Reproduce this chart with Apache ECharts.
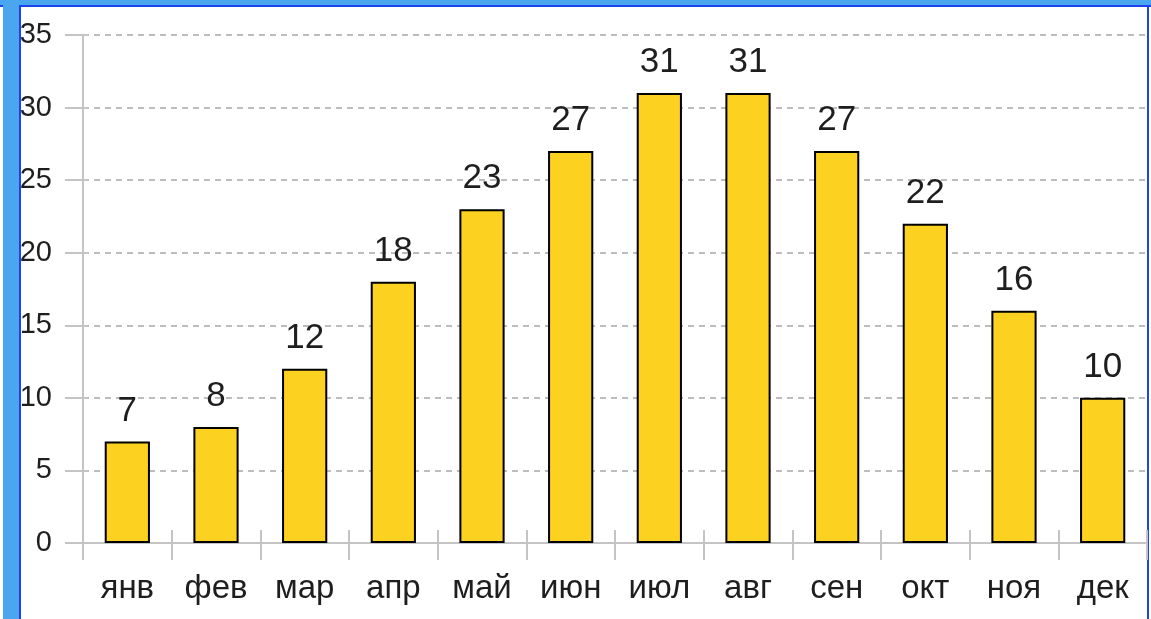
<!DOCTYPE html>
<html>
<head>
<meta charset="utf-8">
<script src="https://cdn.jsdelivr.net/npm/echarts@6/dist/echarts.min.js"></script>
<style>
  html, body { margin: 0; padding: 0; background: #fff; }
  #main { width: 1151px; height: 619px; }
</style>
</head>
<body>
<div id="main"></div>
<script>
// месяцы и значения
var months = ['янв', 'фев', 'мар', 'апр', 'май', 'июн', 'июл', 'авг', 'сен', 'окт', 'ноя', 'дек'];
var values = [7, 8, 12, 18, 23, 27, 31, 31, 27, 22, 16, 10];
var yTicks = [0, 5, 10, 15, 20, 25, 30, 35];

var font = '"Liberation Sans", Arial, sans-serif';
var gray = '#c4c4c4';
var myChart = echarts.init(document.getElementById('main'));

myChart.setOption({
  animation: false,
  grid: { left: 83, right: 4, top: 35, bottom: 76 },
  // рамка окна
  graphic: [
    { type: 'rect', shape: { x: 0, y: 0, width: 1151, height: 5 }, style: { fill: '#4aa6ee' } },
    { type: 'rect', shape: { x: 0, y: 5, width: 1151, height: 2 }, style: { fill: '#1c44ee' } },
    { type: 'rect', shape: { x: 3, y: 0, width: 16, height: 619 }, style: { fill: '#4aa6ee' } },
    { type: 'rect', shape: { x: 19, y: 5, width: 2, height: 614 }, style: { fill: '#1c44ee' } },
    { type: 'rect', shape: { x: 1147, y: 5, width: 2, height: 614 }, style: { fill: '#1c44ee' } }
  ],
  xAxis: [{
    type: 'category',
    data: months,
    axisLine: { lineStyle: { color: gray, width: 2 } },
    axisTick: { show: true, length: 17, lineStyle: { color: gray, width: 2 } },
    axisLabel: { color: '#1e1e1e', fontSize: 33, fontFamily: font, margin: 29 }
  }, {
    type: 'category',
    data: months,
    position: 'bottom',
    offset: 0,
    axisLine: { show: false },
    axisTick: { show: true, inside: true, length: 13, lineStyle: { color: gray, width: 2 } },
    axisLabel: { show: false }
  }],
  yAxis: [{
    type: 'value',
    min: yTicks[0],
    max: yTicks[yTicks.length - 1],
    interval: 5,
    axisLine: { show: true, lineStyle: { color: gray, width: 2 } },
    axisTick: { show: true, length: 18, lineStyle: { color: gray, width: 2 } },
    axisLabel: { color: '#1e1e1e', fontSize: 29, fontFamily: font, margin: 31 },
    splitLine: { lineStyle: { color: '#bdbdbd', width: 2, type: [6, 5] } }
  }, {
    type: 'value',
    position: 'left',
    offset: 0,
    min: yTicks[0],
    max: yTicks[yTicks.length - 1],
    interval: 5,
    axisLine: { show: false },
    axisTick: { show: true, inside: true, length: 5, lineStyle: { color: gray, width: 2 } },
    axisLabel: { show: false },
    splitLine: { show: false }
  }],
  series: [{
    type: 'bar',
    data: values,
    barWidth: '51%',
    itemStyle: { color: '#fdd11f', borderColor: '#000', borderWidth: 2 },
    label: {
      show: true,
      position: 'top',
      distance: 13,
      color: '#1e1e1e',
      fontSize: 35,
      fontFamily: font
    }
  }]
});
</script>
</body>
</html>
